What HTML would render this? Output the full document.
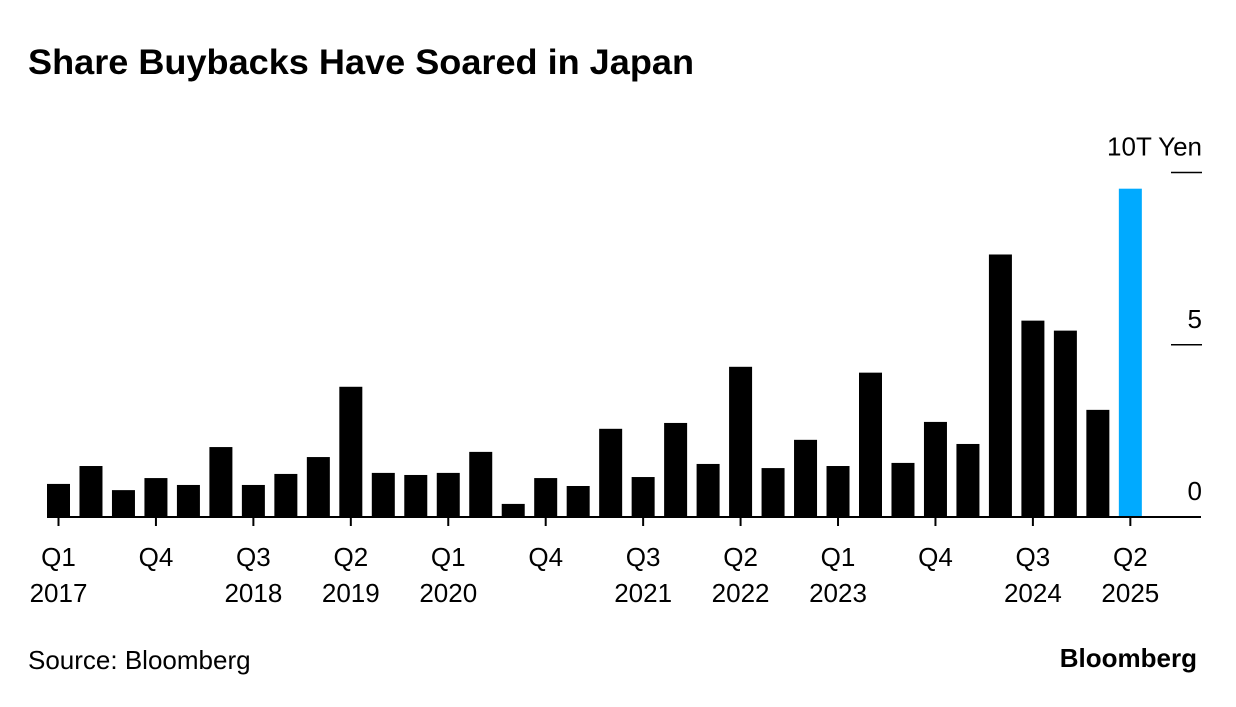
<!DOCTYPE html>
<html><head><meta charset="utf-8"><style>
body{margin:0;background:#fff;width:1236px;height:702px;overflow:hidden;font-family:"Liberation Sans",sans-serif}
svg text{font-family:"Liberation Sans",sans-serif}
</style></head><body>
<svg width="1236" height="702">
<text x="28" y="74" font-size="35" font-weight="bold" fill="#000" textLength="666" lengthAdjust="spacingAndGlyphs">Share Buybacks Have Soared in Japan</text>
<g id="plot"></g>
<text x="28" y="669" font-size="26" fill="#000">Source: Bloomberg</text>
<text x="1197" y="667" font-size="26" font-weight="bold" text-anchor="end" fill="#000">Bloomberg</text>
</svg>
<script>
const values=[0.96,1.48,0.78,1.13,0.93,2.03,0.93,1.25,1.74,3.78,1.28,1.22,1.28,1.89,0.38,1.13,0.90,2.56,1.16,2.73,1.54,4.36,1.42,2.24,1.48,4.19,1.57,2.76,2.12,7.62,5.70,5.41,3.11,9.53];
const tickQuarters=["Q1","Q4","Q3","Q2","Q1","Q4","Q3","Q2","Q1","Q4","Q3","Q2"];
const tickYears=["2017","","2018","2019","2020","","2021","2022","2023","","2024","2025"];
const yTicks=[0,5,10];
const NS="http://www.w3.org/2000/svg";
const g=document.getElementById('plot');
const x0=58.5,step=32.48,bw=23,base=517,unit=34.45;
const xs=i=>x0+i*step;
const ys=v=>base-v*unit;
function mk(t,a){const e=document.createElementNS(NS,t);for(const k in a)e.setAttribute(k,a[k]);g.appendChild(e);return e;}
values.forEach((v,i)=>{
 const r=mk('rect',{x:xs(i)-bw/2,y:ys(v),width:bw,height:base-ys(v),fill:i===values.length-1?'#00aaff':'#000'});
 
 
});
const axis=mk('line',{x1:47,x2:1201,y1:base,y2:base,stroke:'#000','stroke-width':2});


tickQuarters.forEach((q,j)=>{
 const x=xs(j*3);
 const t=mk('line',{x1:x,x2:x,y1:base,y2:base+9,stroke:'#000','stroke-width':2});
 
 
 const l=mk('text',{x:x,y:566,'font-size':26,'text-anchor':'middle',fill:'#000'});
 l.textContent=q;
 
 
 if(tickYears[j]){
  const y=mk('text',{x:x,y:602,'font-size':26,'text-anchor':'middle',fill:'#000'});
  y.textContent=tickYears[j];
  
  
 }
});
yTicks.forEach(v=>{
 const y=ys(v);
 if(v>0){
  const t=mk('line',{x1:1171,x2:1202,y1:y,y2:y,stroke:'#000','stroke-width':1.5});
  
  
 }
 const l=mk('text',{x:1202,y:y-17,'font-size':26,'text-anchor':'end',fill:'#000'});
 l.textContent=v===10?'10T Yen':String(v);
 
 
});
</script>
</body></html>
